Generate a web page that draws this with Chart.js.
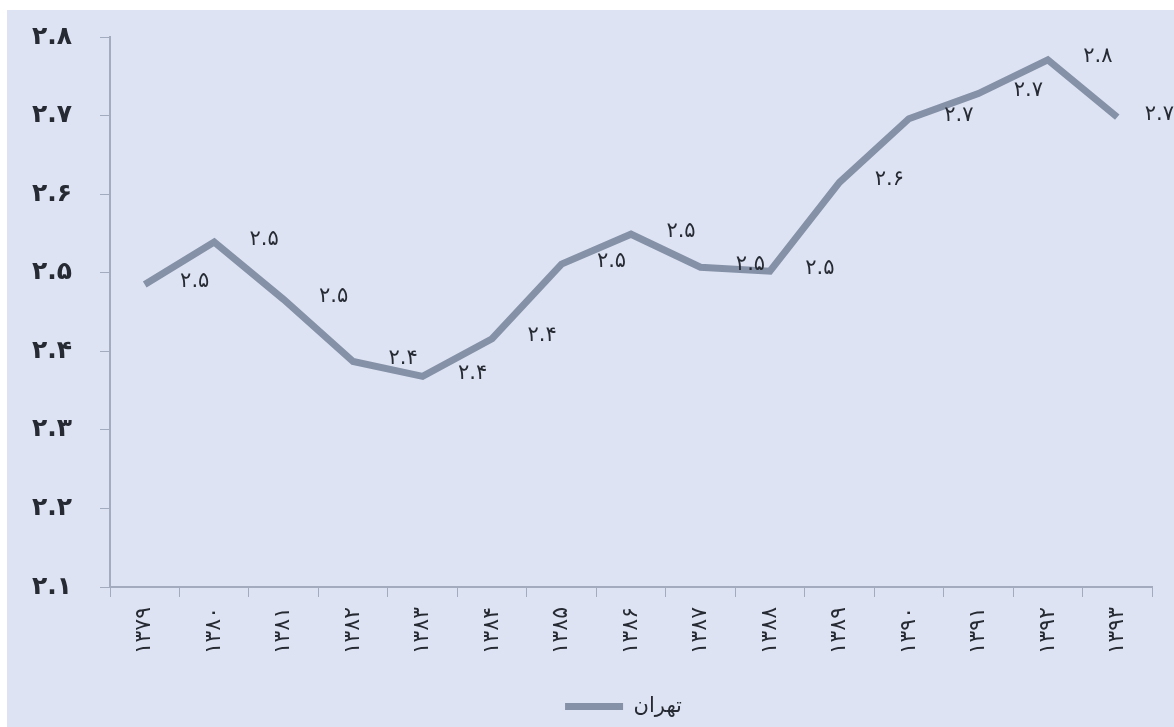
<!DOCTYPE html>
<html>
<head>
<meta charset="utf-8">
<script src="https://cdn.jsdelivr.net/npm/chart.js@4.4.1/dist/chart.umd.min.js"></script>
<style>
    html, body { margin: 0; padding: 0; background: #ffffff; }
    #wrap {
        position: absolute;
        left: 7px;
        top: 10px;
        width: 1167px;
        height: 717px;
        background: #dee3f3;
    }
</style>
</head>
<body>
<div id="wrap"><canvas id="tehranChart" width="1167" height="717"></canvas></div>
<script>
// Datos
const years = ['۱۳۷۹', '۱۳۸۰', '۱۳۸۱', '۱۳۸۲', '۱۳۸۳', '۱۳۸۴', '۱۳۸۵', '۱۳۸۶',
               '۱۳۸۷', '۱۳۸۸', '۱۳۸۹', '۱۳۹۰', '۱۳۹۱', '۱۳۹۲', '۱۳۹۳'];
const tehranValues = [2.485, 2.539, 2.466, 2.387, 2.368, 2.416, 2.511, 2.549,
                      2.507, 2.502, 2.615, 2.696, 2.728, 2.771, 2.698];
const seriesName = 'تهران';

const lineColor = '#8491a7';
const textColor = '#262a33';
const axisColor = '#a3acbf';

// Pasar dígitos a persa
function toPersian(str) {
    const digits = '۰۱۲۳۴۵۶۷۸۹';
    return String(str).replace(/[0-9]/g, d => digits[d]);
}

// Etiquetas de datos a la derecha de cada punto
const valueLabels = {
    id: 'valueLabels',
    afterLayout(chart) {
        // la leyenda del original está algo a la derecha del centro
        chart.legend.left += 44;
        chart.legend.right += 44;
    },
    afterDatasetsDraw(chart) {
        const ctx = chart.ctx;
        const meta = chart.getDatasetMeta(0);
        ctx.save();
        ctx.font = '21px "DejaVu Sans"';
        ctx.fillStyle = textColor;
        ctx.textAlign = 'center';
        ctx.textBaseline = 'middle';
        meta.data.forEach((pt, i) => {
            const txt = toPersian(chart.data.datasets[0].data[i].toFixed(1));
            const w = ctx.measureText(txt).width;
            // no salir del lienzo por la derecha
            const x = Math.min(pt.x + 50, chart.width - w / 2);
            ctx.fillText(txt, x, pt.y - 3);
        });
        ctx.restore();
    }
};

const ctx = document.getElementById('tehranChart').getContext('2d');
new Chart(ctx, {
    type: 'line',
    data: {
        labels: years,
        datasets: [{
            label: seriesName,
            data: tehranValues,
            borderColor: lineColor,
            backgroundColor: lineColor,
            borderWidth: 7,
            pointRadius: 0,
            tension: 0,
            borderJoinStyle: 'miter'
        }]
    },
    options: {
        responsive: false,
        animation: false,
        layout: {
            padding: { left: 0, right: 22, top: 27, bottom: 0 }
        },
        plugins: {
            legend: {
                position: 'bottom',
                labels: {
                    usePointStyle: true,
                    pointStyle: 'line',
                    pointStyleWidth: 58,
                    color: textColor,
                    padding: 8,
                    font: { family: '"DejaVu Sans"', size: 21 }
                }
            },
            tooltip: { enabled: false }
        },
        scales: {
            x: {
                offset: true,
                grid: {
                    offset: true,
                    drawOnChartArea: false,
                    tickLength: 10,
                    color: axisColor
                },
                border: { color: axisColor, width: 2 },
                ticks: {
                    color: textColor,
                    minRotation: 90,
                    maxRotation: 90,
                    padding: 10,
                    font: { family: '"DejaVu Sans"', size: 22 }
                },
                afterFit(scale) {
                    scale.height = 101;
                    scale.paddingLeft = 0;
                    scale.paddingRight = 0;
                }
            },
            y: {
                min: 2.1,
                max: 2.8,
                grid: {
                    drawOnChartArea: false,
                    tickLength: 10,
                    color: axisColor
                },
                border: { color: axisColor, width: 2 },
                ticks: {
                    stepSize: 0.1,
                    color: textColor,
                    padding: 28,
                    font: { family: '"DejaVu Sans"', size: 25, weight: 'bold' },
                    callback: function(value) {
                        return toPersian(value.toFixed(1));
                    }
                },
                afterFit(scale) {
                    scale.width = 103;
                    scale.paddingTop = 0;
                    scale.paddingBottom = 0;
                }
            }
        }
    },
    plugins: [valueLabels]
});
</script>
</body>
</html>
